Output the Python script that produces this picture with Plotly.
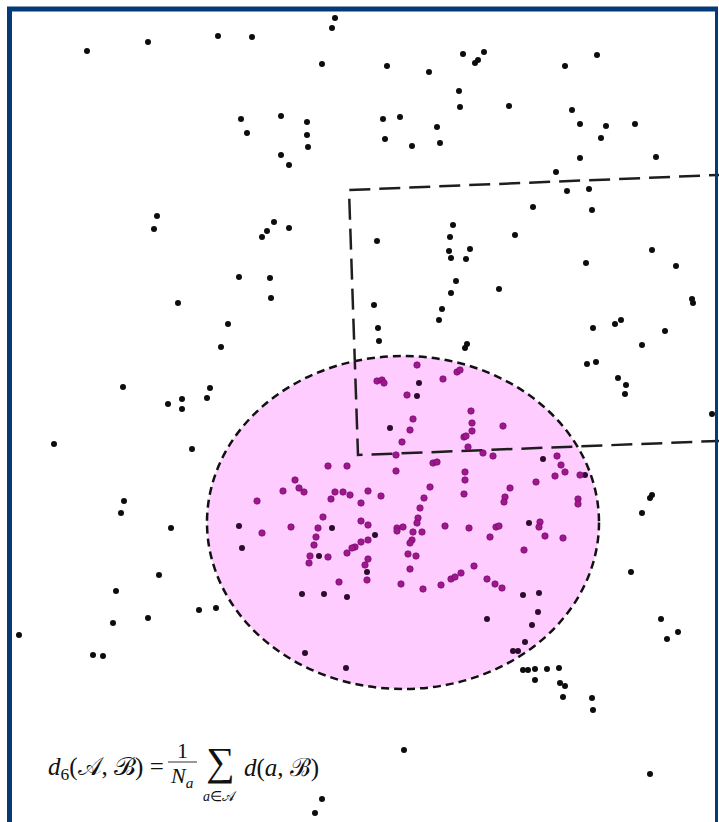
import plotly.graph_objects as go

# Canvas (pixel-like coordinate system, y grows downward)
W, H = 719, 822

# Background point cloud (black), outside the highlighted region
outside_x = [87, 148, 218, 252, 335, 332, 322, 387, 429, 463, 475, 478, 484, 459, 460, 241, 247, 281, 307, 307,
             308, 281, 289, 383, 400, 385, 412, 437, 440, 157, 154, 274, 267, 262, 289, 377, 453, 450, 449, 451,
             470, 466, 597, 565, 509, 572, 580, 606, 601, 635, 580, 656, 556, 567, 589, 533, 592, 515, 652, 586,
             676, 239, 270, 271, 178, 228, 221, 123, 210, 207, 168, 182, 182, 54, 192, 124, 121, 171, 374, 378,
             379, 456, 451, 442, 439, 467, 465, 499, 692, 693, 593, 615, 621, 665, 642, 587, 596, 618, 626, 625,
             712, 652, 650, 642, 159, 116, 199, 216, 113, 148, 19, 93, 103, 631, 661, 678, 667, 523, 528, 535,
             547, 559, 535, 560, 565, 563, 592, 593, 650, 404, 322, 315]
outside_y = [51, 42, 36, 37, 18, 28, 64, 66, 72, 54, 63, 60, 52, 91, 107, 119, 133, 116, 122, 135,
             147, 155, 165, 119, 117, 139, 146, 127, 143, 216, 229, 222, 231, 237, 228, 241, 225, 237, 251, 258,
             249, 259, 55, 66, 106, 110, 124, 126, 138, 124, 158, 157, 172, 191, 189, 207, 210, 235, 250, 263,
             266, 277, 278, 298, 303, 324, 347, 387, 388, 398, 404, 399, 409, 444, 449, 501, 513, 528, 305, 328,
             341, 281, 293, 309, 320, 344, 348, 289, 299, 303, 328, 324, 320, 331, 345, 364, 362, 378, 385, 394,
             414, 495, 498, 513, 575, 591, 610, 608, 623, 618, 635, 655, 656, 572, 619, 632, 639, 670, 670, 669,
             669, 668, 680, 683, 686, 697, 698, 710, 774, 750, 799, 813]

# Points of set A inside the ellipse (purple)
inside_x = [417, 377, 382, 384, 443, 457, 460, 407, 413, 410, 402, 471, 472, 472, 464, 466, 468, 503, 396, 483,
            493, 557, 561, 565, 555, 580, 536, 328, 347, 396, 433, 437, 465, 465, 464, 510, 505, 504, 578, 578,
            295, 299, 304, 283, 257, 335, 343, 350, 331, 368, 381, 361, 430, 424, 420, 418, 417, 323, 318, 316,
            314, 310, 309, 328, 361, 368, 291, 262, 368, 361, 355, 352, 347, 368, 365, 367, 339, 397, 397, 403,
            413, 422, 412, 410, 408, 416, 410, 401, 423, 441, 451, 455, 461, 474, 487, 495, 502, 445, 469, 496,
            499, 490, 540, 539, 545, 563, 524]
inside_y = [365, 381, 380, 383, 379, 372, 370, 395, 419, 430, 442, 411, 423, 431, 437, 436, 447, 426, 455, 453,
            456, 456, 465, 472, 476, 475, 482, 466, 466, 471, 463, 462, 472, 480, 494, 488, 497, 502, 499, 504,
            480, 488, 492, 491, 501, 492, 492, 495, 499, 491, 496, 503, 487, 498, 508, 518, 523, 517, 528, 537,
            545, 556, 563, 557, 521, 525, 527, 533, 540, 542, 547, 548, 553, 559, 565, 580, 582, 528, 531, 527,
            532, 532, 540, 543, 554, 556, 569, 584, 589, 585, 579, 577, 573, 566, 579, 584, 588, 526, 528, 527,
            526, 537, 522, 527, 536, 538, 550]

# Background points that fall inside the ellipse (dark)
inside_dark_x = [239, 242, 332, 319, 375, 367, 302, 324, 347, 305, 346, 390, 419, 417, 543, 585, 529, 523, 539, 538,
                 532, 487, 525, 513, 518]
inside_dark_y = [526, 548, 528, 556, 535, 572, 594, 594, 597, 653, 668, 428, 383, 396, 459, 475, 523, 595, 593, 612,
                 625, 619, 642, 651, 651]

# Ellipse bounds and the dashed window corners
ellipse_box = (207, 356, 599, 689)
window_x = [730, 349, 358, 730]
window_y = [174.5, 190, 455, 440.5]

fig = go.Figure()

fig.add_shape(type="circle", xref="x", yref="y",
              x0=ellipse_box[0], y0=ellipse_box[1], x1=ellipse_box[2], y1=ellipse_box[3],
              fillcolor="#ffccff", line=dict(color="#111111", width=2.5, dash="8px,5px"), layer="below")

fig.add_trace(go.Scatter(x=window_x, y=window_y, mode="lines", hoverinfo="skip",
                         line=dict(color="#1e1e1e", width=2.5, dash="21px,9px")))

fig.add_trace(go.Scatter(x=outside_x, y=outside_y, mode="markers", hoverinfo="skip",
                         marker=dict(size=6, color="#0d0d0d", line=dict(width=0))))
fig.add_trace(go.Scatter(x=inside_dark_x, y=inside_dark_y, mode="markers", hoverinfo="skip",
                         marker=dict(size=6, color="#2b0c2c", line=dict(width=0))))
fig.add_trace(go.Scatter(x=inside_x, y=inside_y, mode="markers", hoverinfo="skip",
                         marker=dict(size=6.5, color="#a0168f", line=dict(width=0.6, color="#6a0a60"))))

# Blue frame (open at the bottom)
frame_col = "#053a78"
fig.add_shape(type="line", x0=9.5, x1=9.5, y0=7, y1=H + 5, line=dict(color=frame_col, width=5), layer="above")
fig.add_shape(type="line", x0=7, x1=718, y0=9, y1=9, line=dict(color=frame_col, width=5), layer="above")
fig.add_shape(type="line", x0=716.5, x1=716.5, y0=7, y1=H + 5, line=dict(color=frame_col, width=3), layer="above")

# Formula: d6(A, B) = 1/Na * sum_{a in A} d(a, B)
serif = "Liberation Serif"
fs = 25
fig.add_annotation(x=46, y=768, xanchor="left", yanchor="middle", showarrow=False,
                   text="<i>d</i><sub>6</sub>(𝒜, ℬ) =", font=dict(family=serif, size=fs, color="#111"))
fig.add_annotation(x=182, y=750, xanchor="center", yanchor="middle", showarrow=False,
                   text="1", font=dict(family=serif, size=22, color="#111"))
fig.add_shape(type="line", x0=168, x1=197, y0=762, y1=762, line=dict(color="#333", width=1))
fig.add_annotation(x=182, y=777, xanchor="center", yanchor="middle", showarrow=False,
                   text="<i>N</i><sub><i>a</i></sub>", font=dict(family=serif, size=22, color="#111"))
fig.add_annotation(x=220, y=786, xanchor="center", yanchor="bottom", showarrow=False,
                   text="∑", font=dict(family=serif, size=40, color="#111"))
fig.add_annotation(x=220, y=787, xanchor="center", yanchor="top", showarrow=False,
                   text="<i>a</i>∈𝒜", font=dict(family=serif, size=14, color="#111"))
fig.add_annotation(x=242, y=768, xanchor="left", yanchor="middle", showarrow=False,
                   text="<i>d</i>(<i>a</i>, ℬ)", font=dict(family=serif, size=fs, color="#111"))

fig.update_layout(
    width=W, height=H, margin=dict(l=0, r=0, t=0, b=0),
    paper_bgcolor="white", plot_bgcolor="white", showlegend=False,
    xaxis=dict(range=[0, W], visible=False, fixedrange=True),
    yaxis=dict(range=[H, 0], visible=False, fixedrange=True),
)

fig.write_html("out.html")
